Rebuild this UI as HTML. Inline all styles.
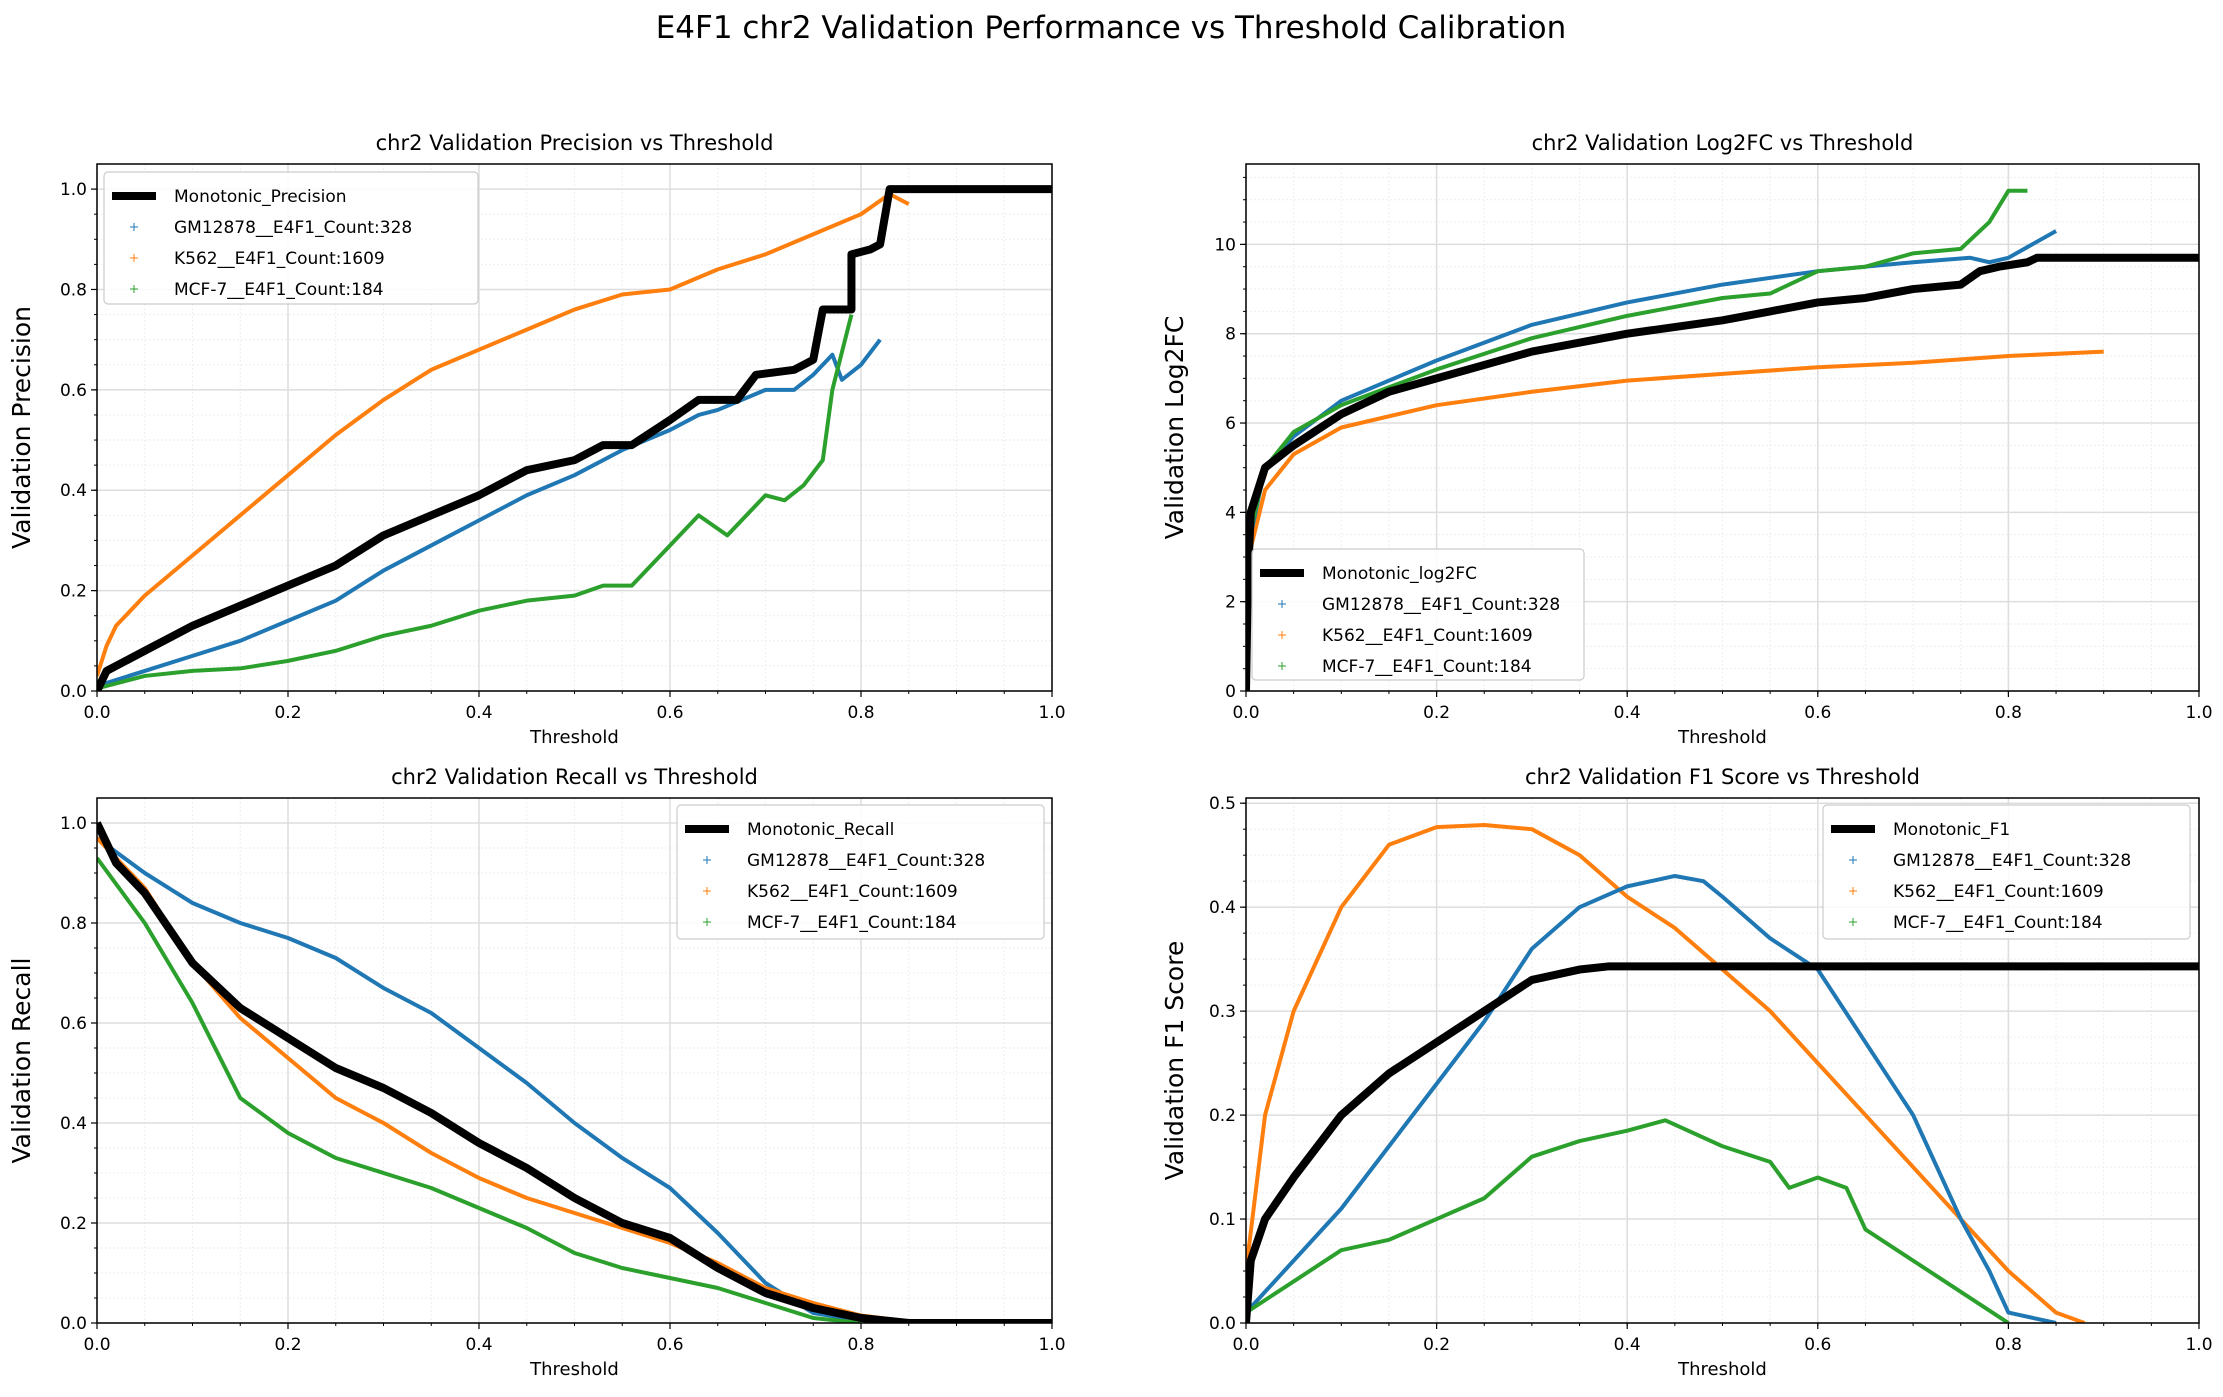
<!DOCTYPE html>
<html><head><meta charset="utf-8">
<style>
html,body{margin:0;padding:0;background:#fff;}
svg{display:block;font-family:"DejaVu Sans","Liberation Sans",sans-serif;}
</style></head>
<body>
<svg id="fig" width="2223" height="1397" viewBox="0 0 2223 1397" xmlns="http://www.w3.org/2000/svg">
<rect width="2223" height="1397" fill="#fff"/>
<text x="1111" y="38" font-size="31" text-anchor="middle" fill="#000">E4F1 chr2 Validation Performance vs Threshold Calibration</text>
</svg>
<script>
const seriesNames = ["Monotonic","GM12878__E4F1_Count:328","K562__E4F1_Count:1609","MCF-7__E4F1_Count:184"];
// Precision
const precBlackX=[0,0.01,0.05,0.1,0.15,0.2,0.25,0.3,0.35,0.4,0.45,0.5,0.53,0.56,0.6,0.63,0.67,0.69,0.73,0.75,0.76,0.79,0.79,0.81,0.82,0.83,1.0];
const precBlackY=[0,0.04,0.08,0.13,0.17,0.21,0.25,0.31,0.35,0.39,0.44,0.46,0.49,0.49,0.54,0.58,0.58,0.63,0.64,0.66,0.76,0.76,0.87,0.88,0.89,1.0,1.0];
const precBlueX=[0,0.05,0.1,0.15,0.2,0.25,0.3,0.35,0.4,0.45,0.5,0.55,0.6,0.63,0.65,0.7,0.73,0.75,0.77,0.78,0.8,0.82];
const precBlueY=[0.01,0.04,0.07,0.1,0.14,0.18,0.24,0.29,0.34,0.39,0.43,0.48,0.52,0.55,0.56,0.6,0.6,0.63,0.67,0.62,0.65,0.7];
const precOrangeX=[0,0.01,0.02,0.05,0.1,0.15,0.2,0.25,0.3,0.35,0.4,0.45,0.5,0.55,0.6,0.65,0.7,0.75,0.8,0.83,0.85];
const precOrangeY=[0.03,0.09,0.13,0.19,0.27,0.35,0.43,0.51,0.58,0.64,0.68,0.72,0.76,0.79,0.8,0.84,0.87,0.91,0.95,0.99,0.97];
const precGreenX=[0,0.05,0.1,0.15,0.2,0.25,0.3,0.35,0.4,0.45,0.5,0.53,0.56,0.6,0.63,0.66,0.7,0.72,0.74,0.76,0.77,0.79];
const precGreenY=[0.005,0.03,0.04,0.045,0.06,0.08,0.11,0.13,0.16,0.18,0.19,0.21,0.21,0.29,0.35,0.31,0.39,0.38,0.41,0.46,0.6,0.75];
// Log2FC
const fcBlackX=[0,0.002,0.005,0.02,0.05,0.1,0.15,0.2,0.3,0.4,0.5,0.55,0.6,0.65,0.7,0.75,0.77,0.79,0.82,0.83,1.0];
const fcBlackY=[0,2.5,4,5,5.5,6.2,6.7,7.0,7.6,8.0,8.3,8.5,8.7,8.8,9.0,9.1,9.4,9.5,9.6,9.7,9.7];
const fcBlueX=[0,0.005,0.02,0.05,0.1,0.2,0.3,0.4,0.5,0.6,0.7,0.76,0.78,0.8,0.85];
const fcBlueY=[0,3.5,5.0,5.7,6.5,7.4,8.2,8.7,9.1,9.4,9.6,9.7,9.6,9.7,10.3];
const fcOrangeX=[0,0.005,0.02,0.05,0.1,0.2,0.3,0.4,0.5,0.6,0.7,0.8,0.9];
const fcOrangeY=[0,3.2,4.5,5.3,5.9,6.4,6.7,6.95,7.1,7.25,7.35,7.5,7.6];
const fcGreenX=[0,0.005,0.02,0.05,0.1,0.2,0.3,0.4,0.5,0.55,0.6,0.65,0.7,0.75,0.78,0.8,0.82];
const fcGreenY=[0,3.6,5.0,5.8,6.4,7.2,7.9,8.4,8.8,8.9,9.4,9.5,9.8,9.9,10.5,11.2,11.2];
// Recall
const recBlackX=[0,0.02,0.05,0.1,0.15,0.2,0.25,0.3,0.35,0.4,0.45,0.5,0.55,0.6,0.65,0.7,0.75,0.8,0.85,1.0];
const recBlackY=[1.0,0.92,0.86,0.72,0.63,0.57,0.51,0.47,0.42,0.36,0.31,0.25,0.2,0.17,0.11,0.06,0.03,0.01,0,0];
const recBlueX=[0,0.05,0.1,0.15,0.2,0.25,0.3,0.35,0.4,0.45,0.5,0.55,0.6,0.65,0.7,0.75,0.8];
const recBlueY=[0.97,0.9,0.84,0.8,0.77,0.73,0.67,0.62,0.55,0.48,0.4,0.33,0.27,0.18,0.08,0.02,0.005];
const recOrangeX=[0,0.05,0.1,0.15,0.2,0.25,0.3,0.35,0.4,0.45,0.5,0.55,0.6,0.65,0.7,0.75,0.8,0.85];
const recOrangeY=[0.97,0.87,0.72,0.61,0.53,0.45,0.4,0.34,0.29,0.25,0.22,0.19,0.16,0.12,0.07,0.04,0.015,0.003];
const recGreenX=[0,0.05,0.1,0.15,0.2,0.25,0.3,0.35,0.4,0.45,0.5,0.55,0.6,0.65,0.7,0.75,0.8];
const recGreenY=[0.93,0.8,0.64,0.45,0.38,0.33,0.3,0.27,0.23,0.19,0.14,0.11,0.09,0.07,0.04,0.01,0];
// F1
const f1BlackX=[0,0.005,0.02,0.05,0.1,0.15,0.2,0.25,0.3,0.35,0.38,1.0];
const f1BlackY=[0,0.06,0.1,0.14,0.2,0.24,0.27,0.3,0.33,0.34,0.343,0.343];
const f1OrangeX=[0,0.02,0.05,0.1,0.15,0.2,0.25,0.3,0.35,0.4,0.45,0.5,0.55,0.6,0.65,0.7,0.75,0.8,0.85,0.88];
const f1OrangeY=[0.05,0.2,0.3,0.4,0.46,0.477,0.479,0.475,0.45,0.41,0.38,0.34,0.3,0.25,0.2,0.15,0.1,0.05,0.01,0];
const f1BlueX=[0,0.05,0.1,0.15,0.2,0.25,0.3,0.35,0.4,0.45,0.48,0.5,0.55,0.6,0.65,0.7,0.75,0.78,0.8,0.85];
const f1BlueY=[0.01,0.06,0.11,0.17,0.23,0.29,0.36,0.4,0.42,0.43,0.425,0.41,0.37,0.34,0.27,0.2,0.1,0.05,0.01,0];
const f1GreenX=[0,0.05,0.1,0.15,0.2,0.25,0.3,0.35,0.4,0.44,0.5,0.55,0.57,0.6,0.63,0.65,0.7,0.75,0.8];
const f1GreenY=[0.01,0.04,0.07,0.08,0.1,0.12,0.16,0.175,0.185,0.195,0.17,0.155,0.13,0.14,0.13,0.09,0.06,0.03,0];

const xTicks=["0.0","0.2","0.4","0.6","0.8","1.0"];
const precTicks=["0.0","0.2","0.4","0.6","0.8","1.0"];
const fcTicks=["0","2","4","6","8","10"];
const f1Ticks=["0.0","0.1","0.2","0.3","0.4","0.5"];

const svg=document.getElementById('fig');
const NS="http://www.w3.org/2000/svg";
function mk(tag,attrs,parent){const e=document.createElementNS(NS,tag);for(const k in attrs)e.setAttribute(k,attrs[k]);(parent||svg).appendChild(e);return e;}
const colors={blue:"#1f77b4",orange:"#ff7f0e",green:"#2ca02c"};

function panel(cfg){
  const g=mk('g',{});
  
  
  const L=cfg.L,R=cfg.R,T=cfg.T,B=cfg.B;
  const sx=v=>L+v*(R-L), sy=v=>B-(v/cfg.ymax)*(B-T);
  // minor grid
  for(let v=0;v<=1.0001;v+=0.05){mk('line',{x1:sx(v),x2:sx(v),y1:T,y2:B,stroke:"#eee","stroke-width":1,"stroke-dasharray":"2,2"},g);}
  for(let v=0;v<=cfg.ymax;v+=cfg.ystep/4){mk('line',{x1:L,x2:R,y1:sy(v),y2:sy(v),stroke:"#eee","stroke-width":1,"stroke-dasharray":"2,2"},g);}
  // major grid
  xTicks.forEach(t=>{const v=parseFloat(t);mk('line',{x1:sx(v),x2:sx(v),y1:T,y2:B,stroke:"#ddd","stroke-width":1.5},g);});
  cfg.yTicks.forEach(t=>{const v=parseFloat(t);mk('line',{x1:L,x2:R,y1:sy(v),y2:sy(v),stroke:"#ddd","stroke-width":1.5},g);});
  // clip
  const cid='clip'+cfg.name;
  const cp=mk('clipPath',{id:cid},g);mk('rect',{x:L,y:T,width:R-L,height:B-T},cp);
  const pg=mk('g',{'clip-path':`url(#${cid})`},g);
  cfg.series.forEach(s=>{
    const pts=s.x.map((v,i)=>sx(v)+','+sy(s.y[i])).join(' ');
    const pl=mk('polyline',{points:pts,fill:"none",stroke:s.color,"stroke-width":s.black?8:4,"stroke-linejoin":"round","stroke-linecap":"butt"},pg);
    
    
  });
  // frame
  mk('rect',{x:L,y:T,width:R-L,height:B-T,fill:"none",stroke:"#000","stroke-width":1.5},g);
  // ticks
  xTicks.forEach(t=>{const v=parseFloat(t);mk('line',{x1:sx(v),x2:sx(v),y1:B,y2:B+6,stroke:"#000","stroke-width":1.2},g);
    const tx=mk('text',{x:sx(v),y:B+27,"font-size":17,"text-anchor":"middle"},g);tx.textContent=t;});
  for(let v=0.05;v<1;v+=0.05){mk('line',{x1:sx(v),x2:sx(v),y1:B,y2:B+3,stroke:"#000","stroke-width":1},g);}
  cfg.yTicks.forEach(t=>{const v=parseFloat(t);mk('line',{x1:L-6,x2:L,y1:sy(v),y2:sy(v),stroke:"#000","stroke-width":1.2},g);
    const tx=mk('text',{x:L-10,y:sy(v)+6,"font-size":17,"text-anchor":"end"},g);tx.textContent=t;});
  for(let v=0;v<=cfg.ymax;v+=cfg.ystep/4){mk('line',{x1:L-3,x2:L,y1:sy(v),y2:sy(v),stroke:"#000","stroke-width":1},g);}
  // title & labels
  const tt=mk('text',{x:(L+R)/2,y:T-14,"font-size":21,"text-anchor":"middle"},g);tt.textContent=cfg.title;
  
  const xl=mk('text',{x:(L+R)/2,y:B+52,"font-size":18,"text-anchor":"middle"},g);xl.textContent="Threshold";
  
  const yl=mk('text',{x:cfg.ylx,y:(T+B)/2,"font-size":25,"text-anchor":"middle",transform:`rotate(-90 ${cfg.ylx} ${(T+B)/2})`},g);yl.textContent=cfg.ylabel;
  
  // legend
  const lg=mk('g',{},g);
  
  const [lx,ly,lw,lh]=cfg.leg;
  mk('rect',{x:lx,y:ly,width:lw,height:lh,rx:4,fill:"#fff","fill-opacity":0.85,stroke:"#ccc","stroke-width":1.2},lg);
  const labels=[cfg.monoLabel,seriesNames[1],seriesNames[2],seriesNames[3]];
  const lc=["#000",colors.blue,colors.orange,colors.green];
  labels.forEach((lab,i)=>{
    const yy=ly+24+i*31;
    if(i===0) mk('line',{x1:lx+8,x2:lx+52,y1:yy,y2:yy,stroke:"#000","stroke-width":8},lg);
    else {mk('line',{x1:lx+26,x2:lx+34,y1:yy,y2:yy,stroke:lc[i],"stroke-width":1},lg);mk('line',{x1:lx+30,x2:lx+30,y1:yy-4,y2:yy+4,stroke:lc[i],"stroke-width":1},lg);}
    const t=mk('text',{x:lx+70,y:yy+6,"font-size":17},lg);t.textContent=lab;
    
  });
}
const XL=97,XR=1052,XL2=1246,XR2=2199,T1=164,B1=691,T2=798,B2=1323;
panel({name:"precision-panel",L:XL,R:XR,T:T1,B:B1,ymax:1.05,ystep:0.2,yTicks:precTicks,title:"chr2 Validation Precision vs Threshold",ylabel:"Validation Precision",ylx:30,leg:[104,172,374,132],monoLabel:"Monotonic_Precision",
 series:[{x:precBlueX,y:precBlueY,color:colors.blue,dn:"gm12878-precision"},{x:precOrangeX,y:precOrangeY,color:colors.orange,dn:"k562-precision"},{x:precGreenX,y:precGreenY,color:colors.green,dn:"mcf7-precision"},{x:precBlackX,y:precBlackY,color:"#000",black:true,dn:"monotonic-precision"}]});
panel({name:"log2fc-panel",L:XL2,R:XR2,T:T1,B:B1,ymax:11.8,ystep:2,yTicks:fcTicks,title:"chr2 Validation Log2FC vs Threshold",ylabel:"Validation Log2FC",ylx:1183,leg:[1252,549,332,131],monoLabel:"Monotonic_log2FC",
 series:[{x:fcOrangeX,y:fcOrangeY,color:colors.orange,dn:"k562-log2fc"},{x:fcBlueX,y:fcBlueY,color:colors.blue,dn:"gm12878-log2fc"},{x:fcGreenX,y:fcGreenY,color:colors.green,dn:"mcf7-log2fc"},{x:fcBlackX,y:fcBlackY,color:"#000",black:true,dn:"monotonic-log2fc"}]});
panel({name:"recall-panel",L:XL,R:XR,T:T2,B:B2,ymax:1.05,ystep:0.2,yTicks:precTicks,title:"chr2 Validation Recall vs Threshold",ylabel:"Validation Recall",ylx:30,leg:[677,805,367,134],monoLabel:"Monotonic_Recall",
 series:[{x:recBlueX,y:recBlueY,color:colors.blue,dn:"gm12878-recall"},{x:recOrangeX,y:recOrangeY,color:colors.orange,dn:"k562-recall"},{x:recGreenX,y:recGreenY,color:colors.green,dn:"mcf7-recall"},{x:recBlackX,y:recBlackY,color:"#000",black:true,dn:"monotonic-recall"}]});
panel({name:"f1-panel",L:XL2,R:XR2,T:T2,B:B2,ymax:0.505,ystep:0.1,yTicks:f1Ticks,title:"chr2 Validation F1 Score vs Threshold",ylabel:"Validation F1 Score",ylx:1183,leg:[1823,805,367,134],monoLabel:"Monotonic_F1",
 series:[{x:f1OrangeX,y:f1OrangeY,color:colors.orange,dn:"k562-f1"},{x:f1BlueX,y:f1BlueY,color:colors.blue,dn:"gm12878-f1"},{x:f1GreenX,y:f1GreenY,color:colors.green,dn:"mcf7-f1"},{x:f1BlackX,y:f1BlackY,color:"#000",black:true,dn:"monotonic-f1"}]});
</script>
</body></html>
